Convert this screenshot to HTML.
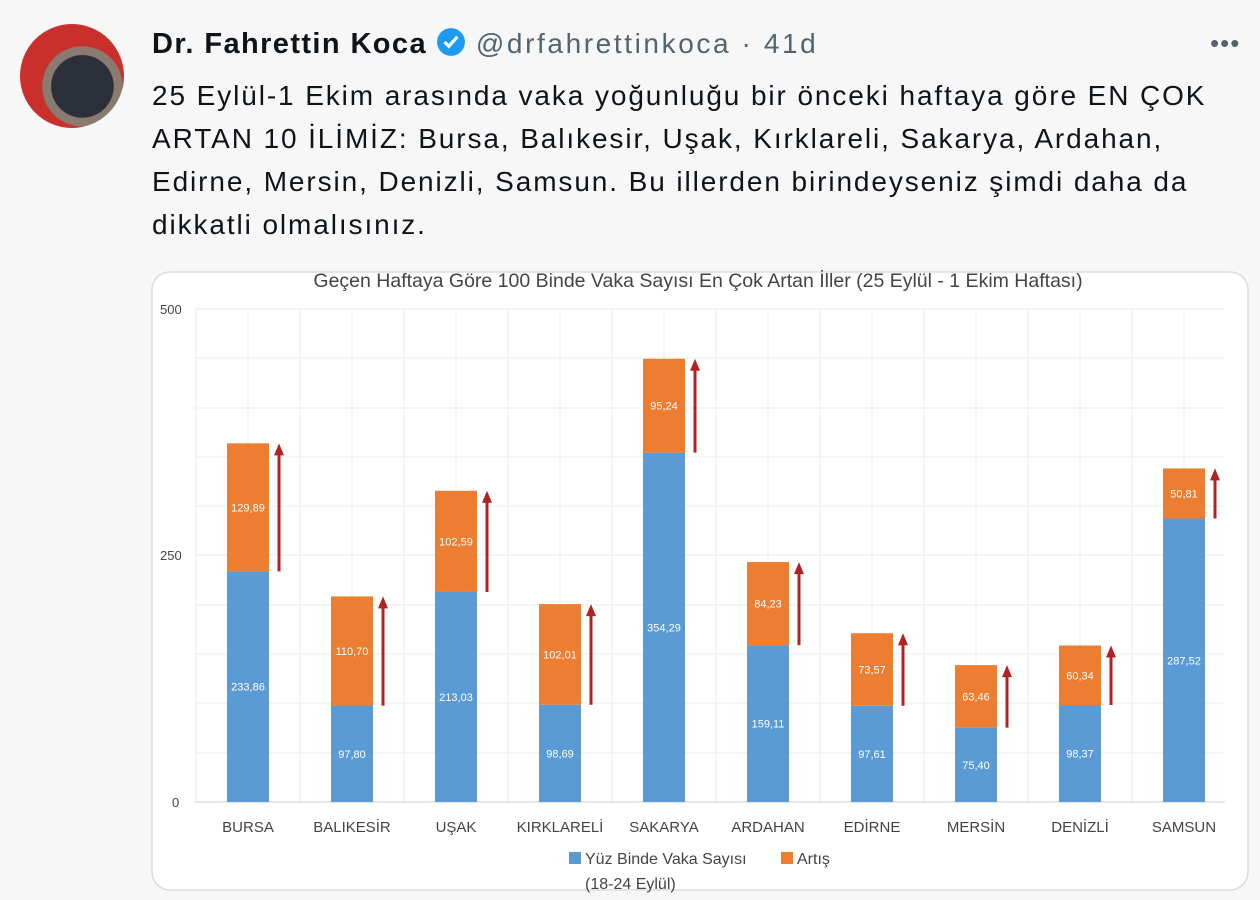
<!DOCTYPE html>
<html><head><meta charset="utf-8"><style>
body{margin:0;width:1260px;height:900px;background:#f7f7f7;font-family:"Liberation Sans",sans-serif;overflow:hidden;position:relative}
.name{position:absolute;left:152px;top:27px;font-size:29px;font-weight:bold;color:#0f1419;white-space:nowrap;letter-spacing:1.4px}
.name span{font-weight:normal;color:#536471;font-size:28px;letter-spacing:2.6px}
.txt{position:absolute;left:152px;top:74px;font-size:28px;line-height:43px;color:#0f1419;white-space:nowrap;letter-spacing:1.9px}
.av{position:absolute;left:20px;top:24px;width:104px;height:104px;border-radius:50%;background:radial-gradient(circle at 60% 60%,#2a2f3a 0 35%,#8a7a70 36% 45%,#c9302c 46%)}
.dots{position:absolute;left:1210px;top:28px;font-size:26px;color:#536471;letter-spacing:1px}
</style></head><body>
<div class="av"></div>
<div class="name">Dr. Fahrettin Koca <svg width="30" height="30" viewBox="0 0 28 28" style="vertical-align:-4px"><circle cx="14" cy="14" r="13" fill="#1d9bf0"/><path d="M8 14l4 4 8-9" stroke="#fff" stroke-width="3" fill="none"/></svg> <span>@drfahrettinkoca · 41d</span></div>
<div class="dots">•••</div>
<div class="txt">25 Eylül-1 Ekim arasında vaka yoğunluğu bir önceki haftaya göre EN ÇOK<br>ARTAN 10 İLİMİZ: Bursa, Balıkesir, Uşak, Kırklareli, Sakarya, Ardahan,<br>Edirne, Mersin, Denizli, Samsun. Bu illerden birindeyseniz şimdi daha da<br>dikkatli olmalısınız.</div>
<svg style="position:absolute;left:0;top:0" width="1260" height="900" font-family="Liberation Sans, sans-serif">
<rect x="152" y="272" width="1096" height="618" rx="18" fill="#fff" stroke="#d6dde3" stroke-width="1.5"/>
<text x="698" y="287" font-size="19.5" text-anchor="middle" fill="#444">Geçen Haftaya Göre 100 Binde Vaka Sayısı En Çok Artan İller (25 Eylül - 1 Ekim Haftası)</text>
<g stroke="#ececec" stroke-width="1">
<line x1="195" y1="309" x2="1225" y2="309"/><line x1="195" y1="358" x2="1225" y2="358"/><line x1="195" y1="408" x2="1225" y2="408"/><line x1="195" y1="457" x2="1225" y2="457"/><line x1="195" y1="506" x2="1225" y2="506"/><line x1="195" y1="555" x2="1225" y2="555"/><line x1="195" y1="605" x2="1225" y2="605"/><line x1="195" y1="654" x2="1225" y2="654"/><line x1="195" y1="703" x2="1225" y2="703"/><line x1="195" y1="753" x2="1225" y2="753"/>
<line x1="196" y1="309" x2="196" y2="802"/><line x1="248" y1="309" x2="248" y2="802"/><line x1="300" y1="309" x2="300" y2="802"/><line x1="352" y1="309" x2="352" y2="802"/><line x1="404" y1="309" x2="404" y2="802"/><line x1="456" y1="309" x2="456" y2="802"/><line x1="508" y1="309" x2="508" y2="802"/><line x1="560" y1="309" x2="560" y2="802"/><line x1="612" y1="309" x2="612" y2="802"/><line x1="664" y1="309" x2="664" y2="802"/><line x1="716" y1="309" x2="716" y2="802"/><line x1="768" y1="309" x2="768" y2="802"/><line x1="820" y1="309" x2="820" y2="802"/><line x1="872" y1="309" x2="872" y2="802"/><line x1="924" y1="309" x2="924" y2="802"/><line x1="976" y1="309" x2="976" y2="802"/><line x1="1028" y1="309" x2="1028" y2="802"/><line x1="1080" y1="309" x2="1080" y2="802"/><line x1="1132" y1="309" x2="1132" y2="802"/><line x1="1184" y1="309" x2="1184" y2="802"/>
</g>
<line x1="195" y1="802" x2="1225" y2="802" stroke="#d0d0d0"/>
<g font-size="13" fill="#444"><text x="160" y="314">500</text><text x="160" y="560">250</text><text x="172" y="807">0</text></g>
<g id="bars"></g>
<g font-size="15" fill="#444" text-anchor="middle">
<text x="248" y="832">BURSA</text><text x="352" y="832">BALIKESİR</text><text x="456" y="832">UŞAK</text><text x="560" y="832">KIRKLARELİ</text><text x="664" y="832">SAKARYA</text><text x="768" y="832">ARDAHAN</text><text x="872" y="832">EDİRNE</text><text x="976" y="832">MERSİN</text><text x="1080" y="832">DENİZLİ</text><text x="1184" y="832">SAMSUN</text>
</g>
<rect x="569" y="852" width="12" height="12" fill="#5b9bd5"/><text x="585" y="864" font-size="16" fill="#444">Yüz Binde Vaka Sayısı</text>
<text x="585" y="889" font-size="16" fill="#444">(18-24 Eylül)</text>
<rect x="781" y="852" width="12" height="12" fill="#ed7d31"/><text x="797" y="864" font-size="16" fill="#444">Artış</text>
</svg>
<script>
const d=[[233.86,129.89],[97.80,110.70],[213.03,102.59],[98.69,102.01],[354.29,95.24],[159.11,84.23],[97.61,73.57],[75.40,63.46],[98.37,60.34],[287.52,50.81]];
const k=0.986,b=802;let s='';
d.forEach((v,i)=>{const cx=248+104*i,x=cx-21;const yb=b-v[0]*k,yt=yb-v[1]*k;
const f=n=>n.toFixed(2).replace('.',',');
s+=`<rect x="${x}" y="${yb}" width="42" height="${v[0]*k}" fill="#5b9bd5"/><rect x="${x}" y="${yt}" width="42" height="${v[1]*k}" fill="#ed7d31"/>`;
s+=`<text x="${cx}" y="${(yb+b)/2+4}" font-size="11" fill="#fff" text-anchor="middle">${f(v[0])}</text><text x="${cx}" y="${(yt+yb)/2+4}" font-size="11" fill="#fff" text-anchor="middle">${f(v[1])}</text>`;
const ax=cx+31;s+=`<line x1="${ax}" y1="${yt+10}" x2="${ax}" y2="${yb}" stroke="#b22222" stroke-width="3"/><path d="M${ax-5} ${yt+12}L${ax} ${yt}L${ax+5} ${yt+12}Z" fill="#b22222"/>`;});
document.getElementById('bars').innerHTML=s;
</script>
</body></html>
